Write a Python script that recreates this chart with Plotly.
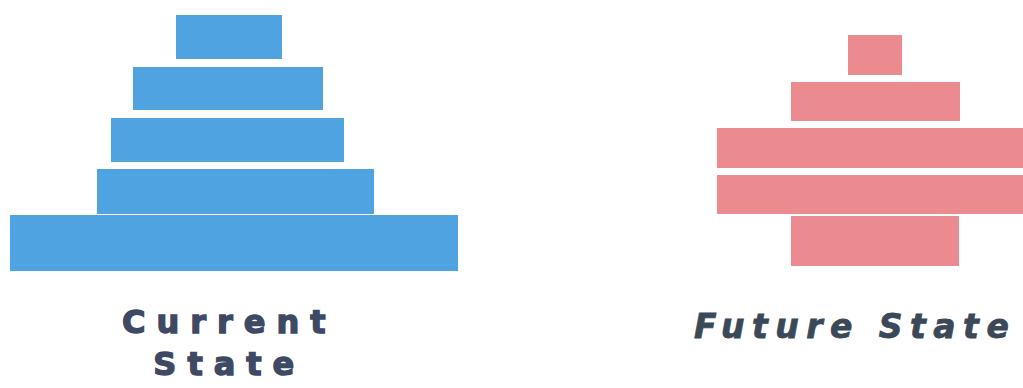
import plotly.graph_objects as go

# ---- data ----
tiers = [1, 2, 3, 4, 5]
current_widths = [106, 190, 233, 277, 448]
future_widths = [54, 169, 317, 317, 168]
labels = ["Current", "State", "Future State"]

W, H = 1023, 388
BLUE = "#4ea3e0"
PINK = "#ec8b8f"
TEXT = "#3e4964"
TEXT2 = "#3b4858"

fig = go.Figure()

cur_shift = [-2, -3, -3.5, 4.5, 3]  # slight hand-drawn misalignment (layout)
fig.add_trace(go.Bar(
    y=tiers, x=current_widths,
    base=[-w / 2 + s for w, s in zip(current_widths, cur_shift)],
    orientation="h", marker=dict(color=BLUE, line=dict(width=0)),
    width=[0.85, 0.82, 0.85, 0.86, 1.08],
    xaxis="x", yaxis="y", hoverinfo="skip", showlegend=False,
))
fig.add_trace(go.Bar(
    y=tiers, x=future_widths, base=[-w / 2 for w in future_widths],
    orientation="h", marker=dict(color=PINK, line=dict(width=0)),
    width=[0.84, 0.84, 0.86, 0.86, 1.07],
    xaxis="x2", yaxis="y2", hoverinfo="skip", showlegend=False,
))

def yrange(first_px, step_px):
    top = 1 - first_px / step_px
    bottom = 1 + (H - first_px) / step_px
    return [bottom, top]

half = W / 2
ax_common = dict(visible=False, showgrid=False, zeroline=False, fixedrange=True)
fig.update_layout(
    width=W, height=H, margin=dict(l=0, r=0, t=0, b=0),
    paper_bgcolor="white", plot_bgcolor="white",
    xaxis=dict(domain=[0, 0.5], range=[-231, half - 231], **ax_common),
    yaxis=dict(domain=[0, 1], range=yrange(37, 51.5), **ax_common),
    xaxis2=dict(domain=[0.5, 1], range=[-(874.5 - half), W - 874.5], **ax_common),
    yaxis2=dict(domain=[0, 1], range=yrange(55, 46.5), anchor="x2", **ax_common),
    bargap=0,
)

sp = ("<span style='letter-spacing:11px;stroke:" + TEXT +
      ";stroke-width:1.4px'>{}</span>")
fig.add_annotation(text=sp.format(labels[0]) + "<br>" + sp.format(labels[1]),
                   x=229 / W, y=1 - 343 / H, xref="paper", yref="paper",
                   showarrow=False, xanchor="center", yanchor="middle",
                   font=dict(family="DejaVu Sans", size=32, color=TEXT, weight="bold"))
sp2 = ("<span style='letter-spacing:7.5px;stroke:" + TEXT2 +
       ";stroke-width:0.8px'>{}</span>")
fig.add_annotation(text=sp2.format(labels[2]), x=855 / W, y=1 - 326 / H,
                   xref="paper", yref="paper",
                   showarrow=False, xanchor="center", yanchor="middle",
                   font=dict(family="DejaVu Sans", size=33, color=TEXT2,
                             weight="bold", style="italic"))

fig.write_html("out.html", config=dict(displayModeBar=False))
